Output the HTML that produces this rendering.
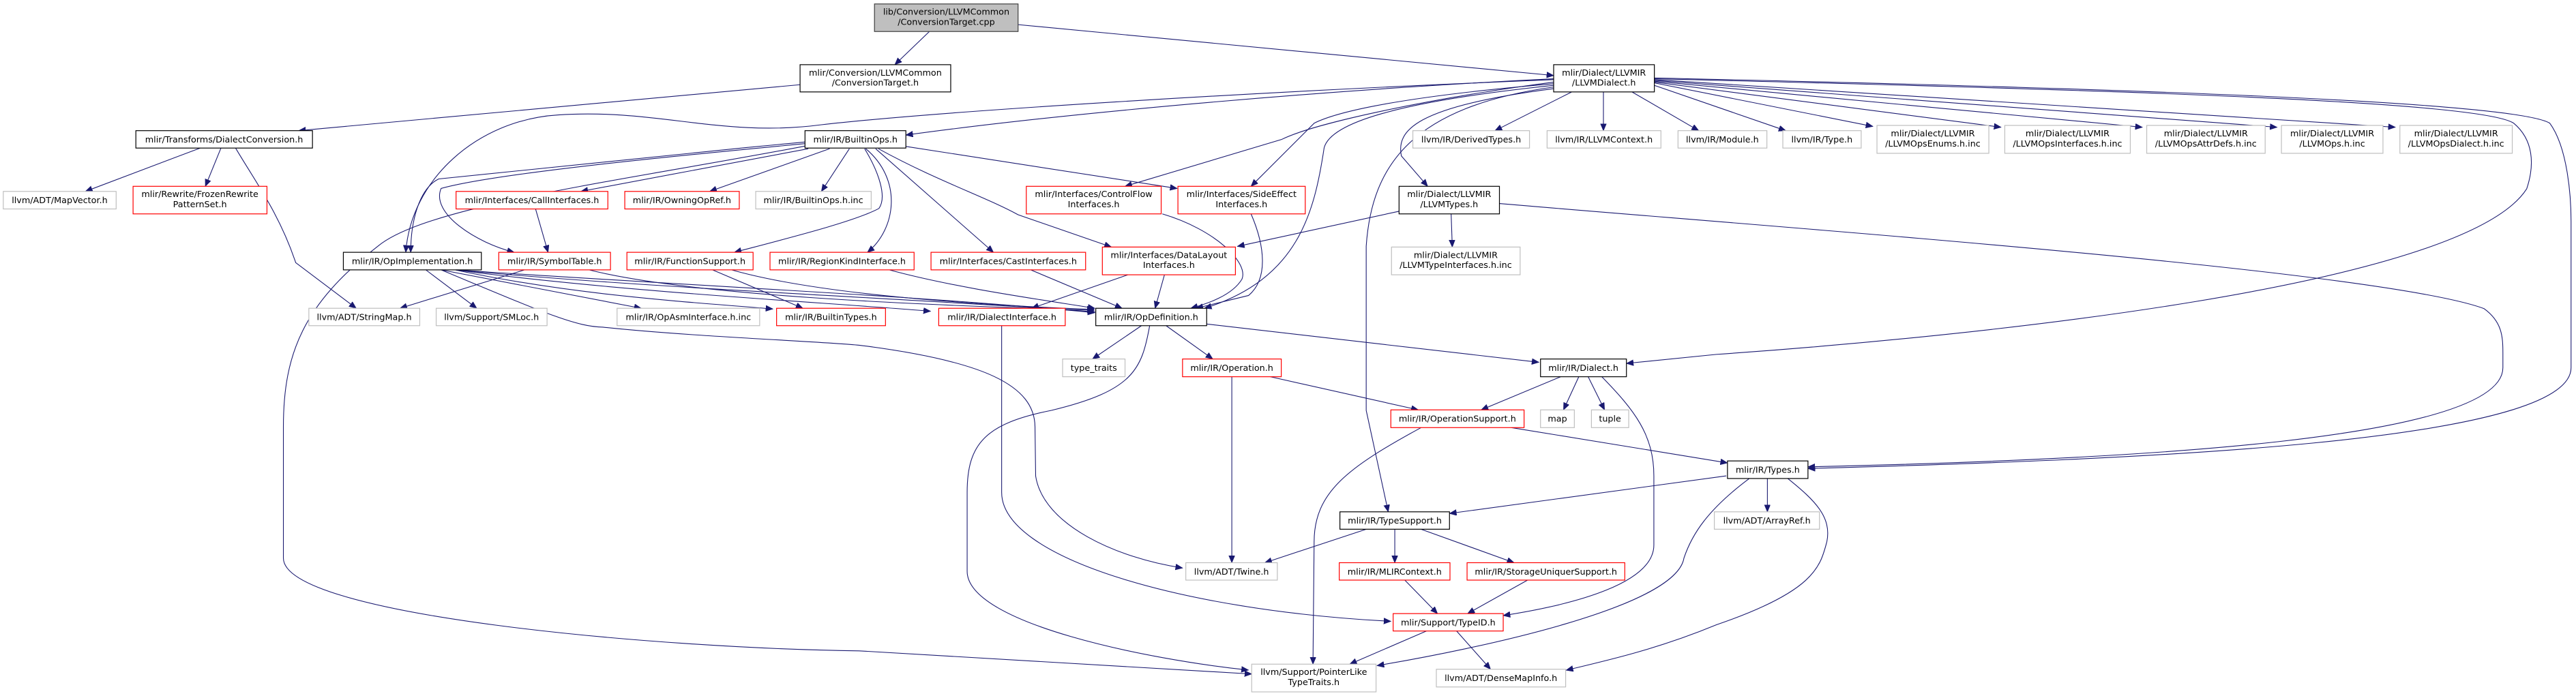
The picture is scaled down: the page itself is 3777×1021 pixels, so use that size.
<!DOCTYPE html>
<html><head><meta charset="utf-8"><style>
html,body{margin:0;padding:0;background:#fff;}
svg{display:block;}
text{font-family:"DejaVu Sans","Liberation Sans",sans-serif;font-size:5.3px;fill:#000;text-anchor:middle;}
.e{fill:none;stroke:#191970;stroke-width:0.45;marker-end:url(#a);}
.k{fill:#fff;stroke:#000;stroke-width:0.5;}
.r{fill:#fff;stroke:#ff0000;stroke-width:0.5;}
.g{fill:#fff;stroke:#bfbfbf;stroke-width:0.5;}
</style></head><body>
<svg width="3777" height="1021" viewBox="0 0 1568 424" preserveAspectRatio="none" xmlns="http://www.w3.org/2000/svg">
<defs><marker id="a" markerUnits="userSpaceOnUse" markerWidth="6" markerHeight="5" refX="4.3" refY="1.8" orient="auto"><path d="M0,0 L4.3,1.8 L0,3.6 z" fill="#191970" stroke="#191970" stroke-width="0.3"/></marker></defs>
<g>
<path class="e" d="M565.7,19.2 L544.7,39.4"/>
<path class="e" d="M619.7,15 L945.7,46"/>
<path class="e" d="M487,51.6 L181.8,79.6"/>
<path class="e" d="M945.7,48 C800,55 640,70 551.4,82.3"/>
<path class="e" d="M945.7,48.5 C760,56 570,68 500,76 C440,84 400,66 340,70 C290,73 250,110 247,153.7"/>
<path class="e" d="M121.8,90.2 L52,116.6"/>
<path class="e" d="M134.5,90.2 L125,113.5"/>
<path class="e" d="M143.4,90.2 C155,110 170,130 180,160 L216.8,187.8"/>
<path class="e" d="M492,90.6 L353.6,116.6"/>
<path class="e" d="M505,90.6 L432,116.6"/>
<path class="e" d="M517,90.6 L500,116.6"/>
<path class="e" d="M490,86.5 C400,95 300,105 267,109 C255,115 250,135 250,153.7"/>
<path class="e" d="M490,87.5 C400,96 300,106 268.5,114.8 C262,130 290,148 313,153.7"/>
<path class="e" d="M490,89 C380,110 260,125 230,150 C185,185 172.5,215 172.5,260 L172.5,340 C172.5,375 400,395 523,396.5 L761.9,410.6"/>
<path class="e" d="M526.3,90.6 C535,105 540,120 535,127 C520,135 480,145 447,153.7"/>
<path class="e" d="M527,90.6 C550,110 545,140 528,153.7"/>
<path class="e" d="M533,90.6 L604.7,153.7"/>
<path class="e" d="M534.7,90.6 C570,110 600,120 619.7,130.8 L676.5,150.5"/>
<path class="e" d="M551.4,89.2 L716.5,114.8"/>
<path class="e" d="M945.7,50 C870,60 800,75 780,85 L684.8,113.5"/>
<path class="e" d="M945.7,51 C840,60 810,70 800,75 C785,90 770,105 761.5,113.5"/>
<path class="e" d="M945.7,52 C850,62 810,75 806,90 C800,130 790,170 733.2,187.8"/>
<path class="e" d="M945.7,53 C860,65 835,100 831.6,150 L831.6,250 L845,311.8"/>
<path class="e" d="M945.7,54 C860,65 850,80 853,95 L869,113.5"/>
<path class="e" d="M956.7,56 L910,79.6"/>
<path class="e" d="M976,56 L976,79.6"/>
<path class="e" d="M993.4,56 L1034,79.6"/>
<path class="e" d="M1007,52 L1087,79.6"/>
<path class="e" d="M1007,50.5 L1140,77"/>
<path class="e" d="M1007,50 L1218,77.5"/>
<path class="e" d="M1007,49.5 L1304,77.5"/>
<path class="e" d="M1007,49 L1386,77.5"/>
<path class="e" d="M1007,48.5 L1458,77.5"/>
<path class="e" d="M1007,48 C1300,55 1510,62 1530,75 C1542,85 1543,100 1538,115 C1500,175 1200,205 1044.8,215.9 L990,221.4"/>
<path class="e" d="M1007,47.5 C1300,54 1530,62 1552,75 C1563,90 1565,120 1565,135 L1565,224 C1565,270 1300,280 1100.5,285.4"/>
<path class="e" d="M912.7,124 C1100,140 1450,165 1512,188 C1523,196 1523.5,205 1523.5,215 L1523.5,224 C1523.5,268 1300,280 1100.5,284.4"/>
<path class="e" d="M851.6,128.7 L753.2,150.1"/>
<path class="e" d="M883.3,130.3 L884,150.5"/>
<path class="e" d="M707.5,130.3 C740,140 760,160 756,170 C750,180 735,185 724.8,187.8"/>
<path class="e" d="M761.5,130.3 C770,150 772,170 760,180 L728,187.8"/>
<path class="e" d="M708.8,167.4 L703.1,187.8"/>
<path class="e" d="M686.5,167.4 L628,187.8"/>
<path class="e" d="M627.4,164.4 L683,187.8"/>
<path class="e" d="M541.3,164.4 C580,175 630,182 666.4,187.8"/>
<path class="e" d="M326,127.3 L333.6,153.7"/>
<path class="e" d="M319.3,164.4 L243.5,187.8"/>
<path class="e" d="M358.6,164.4 C420,180 560,186 666,189"/>
<path class="e" d="M433.7,164.4 L488.7,187.8"/>
<path class="e" d="M445.3,164.4 C500,180 600,186 666,188.5"/>
<path class="e" d="M259.2,164.4 L290.2,187.8"/>
<path class="e" d="M268.5,164.4 L390.3,187.8"/>
<path class="e" d="M276.9,164.4 C350,180 420,184 470.4,188.2"/>
<path class="e" d="M277,164.4 C380,178 500,184 566.4,189.6"/>
<path class="e" d="M277,164.4 C400,176 560,182 666.4,190"/>
<path class="e" d="M277.5,164.4 C400,173 560,180 666.4,190.5"/>
<path class="e" d="M268.5,164.4 C330,190 350,199 367,199.3 C420,205 500,208 523,210.3 C600,220 629.7,235 630,260 L630.4,290 C635,320 680,340 719.8,346"/>
<path class="e" d="M694.8,198.4 L665,218.7"/>
<path class="e" d="M709.8,198.4 L738.2,218.7"/>
<path class="e" d="M734.5,197.4 L936.7,220.7"/>
<path class="e" d="M699.8,198.4 C695,225 690,238 640,250 C600,258 588.7,270 588.7,300 L588.7,348 C588.7,380 700,402 759.9,408.2"/>
<path class="e" d="M609.7,198.4 L609.7,300 C609.7,340 720,372 846.6,378.5"/>
<path class="e" d="M749.8,229.5 L749.8,342.8"/>
<path class="e" d="M773.2,229.5 L863.3,249.7"/>
<path class="e" d="M950,229.5 L901.6,249.7"/>
<path class="e" d="M961,229.5 L951.7,249.7"/>
<path class="e" d="M966.7,229.5 L976.7,249.7"/>
<path class="e" d="M975,229.5 C995,250 1006.7,265 1006.7,290 L1006.7,332 C1006.7,355 960,368 915,375"/>
<path class="e" d="M920,260.5 L1051.5,282"/>
<path class="e" d="M865,260.5 C820,285 800,300 799.9,330 L799.2,404.6"/>
<path class="e" d="M1050.8,289.9 L882.3,312.8"/>
<path class="e" d="M1075.8,291.5 L1075.8,311.8"/>
<path class="e" d="M1064.8,291.5 C1040,310 1030,325 1025,340 C1020,370 900,395 838.2,405.5"/>
<path class="e" d="M1088.2,291.5 C1105,305 1115,315 1112,330 C1108,345 1105,360 1044.8,380.6 C1010,395 980,402 953.3,408.3"/>
<path class="e" d="M831.6,322.4 L769.9,342.8"/>
<path class="e" d="M849,322.4 L849,342.8"/>
<path class="e" d="M865,322.4 L921.6,342.8"/>
<path class="e" d="M855,353.3 L875,373.8"/>
<path class="e" d="M930,353.3 L893.3,373.8"/>
<path class="e" d="M868.3,384.4 L821.6,404.6"/>
<path class="e" d="M886.6,384.4 L907.3,407.7"/>
</g>
<g>
<rect x="532.3" y="2.4" width="87.4" height="16.8" fill="#bfbfbf" stroke="#404040" stroke-width="0.5"/><text x="576" y="9">lib/Conversion/LLVMCommon</text><text x="576" y="15.2">/ConversionTarget.cpp</text>
<rect class="k" x="487" y="39.4" width="91.7" height="16.6"/><text x="532.8" y="46">mlir/Conversion/LLVMCommon</text><text x="532.8" y="52.2">/ConversionTarget.h</text>
<rect class="k" x="945.7" y="39.4" width="61.3" height="16.6"/><text x="976.3" y="46">mlir/Dialect/LLVMIR</text><text x="976.3" y="52.2">/LLVMDialect.h</text>
<rect class="k" x="82.7" y="79.6" width="107.5" height="10.6"/><text x="136.4" y="86.8">mlir/Transforms/DialectConversion.h</text>
<rect class="k" x="490" y="79.6" width="61.4" height="10.6"/><text x="520.7" y="86.8">mlir/IR/BuiltinOps.h</text>
<rect class="g" x="860" y="79.6" width="71" height="10.6"/><text x="895.5" y="86.8">llvm/IR/DerivedTypes.h</text>
<rect class="g" x="941.7" y="79.6" width="69.3" height="10.6"/><text x="976.3" y="86.8">llvm/IR/LLVMContext.h</text>
<rect class="g" x="1021.4" y="79.6" width="54.1" height="10.6"/><text x="1048.4" y="86.8">llvm/IR/Module.h</text>
<rect class="g" x="1085.2" y="79.6" width="47.7" height="10.6"/><text x="1109" y="86.8">llvm/IR/Type.h</text>
<rect class="g" x="1142.5" y="76.4" width="68.1" height="17"/><text x="1176.5" y="83">mlir/Dialect/LLVMIR</text><text x="1176.5" y="89.2">/LLVMOpsEnums.h.inc</text>
<rect class="g" x="1220.3" y="76.4" width="76.4" height="17"/><text x="1258.5" y="83">mlir/Dialect/LLVMIR</text><text x="1258.5" y="89.2">/LLVMOpsInterfaces.h.inc</text>
<rect class="g" x="1306.7" y="76.4" width="72.1" height="17"/><text x="1342.7" y="83">mlir/Dialect/LLVMIR</text><text x="1342.7" y="89.2">/LLVMOpsAttrDefs.h.inc</text>
<rect class="g" x="1388.7" y="76.4" width="61.8" height="17"/><text x="1419.6" y="83">mlir/Dialect/LLVMIR</text><text x="1419.6" y="89.2">/LLVMOps.h.inc</text>
<rect class="g" x="1460.8" y="76.4" width="68.4" height="17"/><text x="1495" y="83">mlir/Dialect/LLVMIR</text><text x="1495" y="89.2">/LLVMOpsDialect.h.inc</text>
<rect class="g" x="2" y="116.6" width="68.7" height="10.7"/><text x="36.3" y="123.8">llvm/ADT/MapVector.h</text>
<rect class="r" x="81" y="113.5" width="81.5" height="16.8"/><text x="121.7" y="120.1">mlir/Rewrite/FrozenRewrite</text><text x="121.7" y="126.3">PatternSet.h</text>
<rect class="r" x="277.6" y="116.6" width="92.4" height="10.7"/><text x="323.8" y="123.8">mlir/Interfaces/CallInterfaces.h</text>
<rect class="r" x="380.3" y="116.6" width="69.7" height="10.7"/><text x="415.1" y="123.8">mlir/IR/OwningOpRef.h</text>
<rect class="g" x="460" y="116.6" width="70.3" height="10.7"/><text x="495.1" y="123.8">mlir/IR/BuiltinOps.h.inc</text>
<rect class="r" x="624.7" y="113.5" width="82.1" height="16.8"/><text x="665.7" y="120.1">mlir/Interfaces/ControlFlow</text><text x="665.7" y="126.3">Interfaces.h</text>
<rect class="r" x="717" y="113.5" width="77.5" height="16.8"/><text x="755.7" y="120.1">mlir/Interfaces/SideEffect</text><text x="755.7" y="126.3">Interfaces.h</text>
<rect class="k" x="851.6" y="113.5" width="61.1" height="16.8"/><text x="882.1" y="120.1">mlir/Dialect/LLVMIR</text><text x="882.1" y="126.3">/LLVMTypes.h</text>
<rect class="k" x="209" y="153.7" width="84" height="10.7"/><text x="251" y="160.9">mlir/IR/OpImplementation.h</text>
<rect class="r" x="303.6" y="153.7" width="68" height="10.7"/><text x="337.6" y="160.9">mlir/IR/SymbolTable.h</text>
<rect class="r" x="381.6" y="153.7" width="76.8" height="10.7"/><text x="420" y="160.9">mlir/IR/FunctionSupport.h</text>
<rect class="r" x="468.7" y="153.7" width="87.7" height="10.7"/><text x="512.5" y="160.9">mlir/IR/RegionKindInterface.h</text>
<rect class="r" x="566.7" y="153.7" width="94.1" height="10.7"/><text x="613.7" y="160.9">mlir/Interfaces/CastInterfaces.h</text>
<rect class="r" x="671" y="150.5" width="81" height="16.9"/><text x="711.5" y="157.1">mlir/Interfaces/DataLayout</text><text x="711.5" y="163.3">Interfaces.h</text>
<rect class="g" x="847" y="150.5" width="78.3" height="16.9"/><text x="886.1" y="157.1">mlir/Dialect/LLVMIR</text><text x="886.1" y="163.3">/LLVMTypeInterfaces.h.inc</text>
<rect class="g" x="188" y="187.8" width="67.5" height="10.6"/><text x="221.7" y="195">llvm/ADT/StringMap.h</text>
<rect class="g" x="265.5" y="187.8" width="67.5" height="10.6"/><text x="299.2" y="195">llvm/Support/SMLoc.h</text>
<rect class="g" x="375.6" y="187.8" width="86.8" height="10.6"/><text x="419" y="195">mlir/IR/OpAsmInterface.h.inc</text>
<rect class="r" x="472.7" y="187.8" width="66.3" height="10.6"/><text x="505.8" y="195">mlir/IR/BuiltinTypes.h</text>
<rect class="r" x="571.4" y="187.8" width="77" height="10.6"/><text x="609.9" y="195">mlir/IR/DialectInterface.h</text>
<rect class="k" x="667" y="187.8" width="67.5" height="10.6"/><text x="700.7" y="195">mlir/IR/OpDefinition.h</text>
<rect class="g" x="646.8" y="218.7" width="38" height="10.8"/><text x="665.8" y="225.9">type_traits</text>
<rect class="r" x="719.8" y="218.7" width="60.1" height="10.8"/><text x="749.8" y="225.9">mlir/IR/Operation.h</text>
<rect class="k" x="937.7" y="218.7" width="52.3" height="10.8"/><text x="963.8" y="225.9">mlir/IR/Dialect.h</text>
<rect class="r" x="846.6" y="249.7" width="81.1" height="10.8"/><text x="887.1" y="256.9">mlir/IR/OperationSupport.h</text>
<rect class="g" x="937.7" y="249.7" width="20.6" height="10.8"/><text x="948" y="256.9">map</text>
<rect class="g" x="968.7" y="249.7" width="22.7" height="10.8"/><text x="980" y="256.9">tuple</text>
<rect class="k" x="1051.5" y="280.8" width="49" height="10.7"/><text x="1076" y="288">mlir/IR/Types.h</text>
<rect class="k" x="815.6" y="311.8" width="66.7" height="10.6"/><text x="849" y="319">mlir/IR/TypeSupport.h</text>
<rect class="g" x="1043.5" y="311.8" width="64" height="10.6"/><text x="1075.5" y="319">llvm/ADT/ArrayRef.h</text>
<rect class="g" x="721.8" y="342.8" width="55.7" height="10.6"/><text x="749.6" y="350">llvm/ADT/Twine.h</text>
<rect class="r" x="815.2" y="342.8" width="67.4" height="10.6"/><text x="848.9" y="350">mlir/IR/MLIRContext.h</text>
<rect class="r" x="893" y="342.8" width="96" height="10.6"/><text x="941" y="350">mlir/IR/StorageUniquerSupport.h</text>
<rect class="r" x="848" y="373.8" width="67" height="10.6"/><text x="881.5" y="381">mlir/Support/TypeID.h</text>
<rect class="g" x="761.9" y="404.6" width="75.7" height="16.9"/><text x="799.7" y="411.2">llvm/Support/PointerLike</text><text x="799.7" y="417.4">TypeTraits.h</text>
<rect class="g" x="874.3" y="407.7" width="78.7" height="10.8"/><text x="913.6" y="414.9">llvm/ADT/DenseMapInfo.h</text>
</g>
</svg>
</body></html>
